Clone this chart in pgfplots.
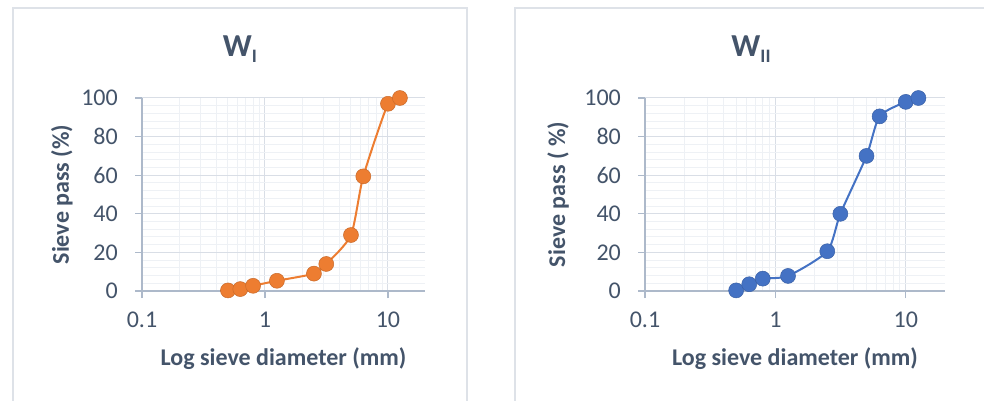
\documentclass[border=0pt]{standalone}
\usepackage{pgfplots}
\pgfplotsset{compat=1.18}
\usepackage{fontspec}
\setmainfont{Carlito}
\definecolor{txt}{HTML}{44546A}
\definecolor{axln}{HTML}{ADB9CA}
\definecolor{gmaj}{HTML}{D9DEE6}
\definecolor{gmin}{HTML}{EEF1F5}
\definecolor{frm}{HTML}{DEE2E8}
\definecolor{orng}{HTML}{ED7D31}
\definecolor{blu}{HTML}{4472C4}
\pgfplotsset{
  sieve/.style={
    scale only axis, anchor=south west, height=193pt,
    xmin=0.1, xmax=20, ymin=0, ymax=100,
    xtick={0.1,1,10}, xticklabels={0.1,1,10},
    ytick={0,20,40,60,80,100}, minor y tick num=4,
    grid=both,
    major grid style={color=gmaj, line width=1pt},
    minor grid style={color=gmin, line width=1pt},
    axis x line*=bottom, axis y line*=left,
    axis line style={color=axln, line width=1.2pt, -},
    tick align=outside, major tick length=7pt, minor tick length=0pt,
    major tick style={color=axln, line width=1.2pt},
    /pgf/number format/assume math mode=true,
    tick label style={font=\fontsize{24}{28}\selectfont, text=txt, inner sep=0pt},
    yticklabel style={anchor=east, xshift=-17pt},
    xticklabel style={anchor=north, yshift=-14pt},
    label style={font=\fontsize{24}{28}\selectfont\bfseries, text=txt},
    xlabel style={at={(rel axis cs:0.5,0)}, anchor=center, yshift=-68pt},
    clip=false,
  }
}
\begin{document}
\begin{tikzpicture}[x=1pt,y=1pt]
\useasboundingbox (0,0) rectangle (984,401);
\fill[white] (0,0) rectangle (984,401);
\draw[frm, line width=1.2pt] (13,-10) rectangle (467,393);
\draw[frm, line width=1.2pt] (515,-10) rectangle (1000,393);
\node[anchor=base, text=txt, font=\fontsize{32}{34}\selectfont\bfseries] at (240,344) {W\raisebox{-6pt}{\fontsize{19}{20}\selectfont I}};
\node[anchor=base, text=txt, font=\fontsize{32}{34}\selectfont\bfseries] at (751,344) {W\raisebox{-6pt}{\fontsize{19}{20}\selectfont II}};
\begin{semilogxaxis}[sieve, at={(142pt,110pt)}, width=283pt,
  xlabel={Log sieve diameter (mm)}, ylabel={Sieve pass (\%)},
  ylabel style={at={(axis description cs:-0.283,0.5)}, anchor=center, rotate=0}]
\addplot[orng, line width=2pt, smooth, tension=0.4, mark=*, mark size=7.5pt,
  mark options={fill=orng, draw=orng!85!black, line width=0.5pt}] coordinates {
  (0.5,0.3) (0.63,1) (0.8,2.7) (1.25,5.3) (2.5,9) (3.15,14)
  (5,29) (6.3,59.4) (10,97) (12.5,100)};
\end{semilogxaxis}
\begin{semilogxaxis}[sieve, at={(645pt,110pt)}, width=300pt,
  xlabel={Log sieve diameter (mm)}, ylabel={Sieve pass ( \%)},
  ylabel style={at={(axis description cs:-0.29,0.5)}, anchor=center, rotate=0}]
\addplot[blu, line width=2pt, smooth, tension=0.4, mark=*, mark size=7.5pt,
  mark options={fill=blu, draw=blu!85!black, line width=0.5pt}] coordinates {
  (0.5,0.3) (0.63,3.5) (0.8,6.4) (1.25,7.8) (2.5,20.6) (3.15,40)
  (5,70) (6.3,90.5) (10,98) (12.5,100)};
\end{semilogxaxis}
\end{tikzpicture}
\end{document}
